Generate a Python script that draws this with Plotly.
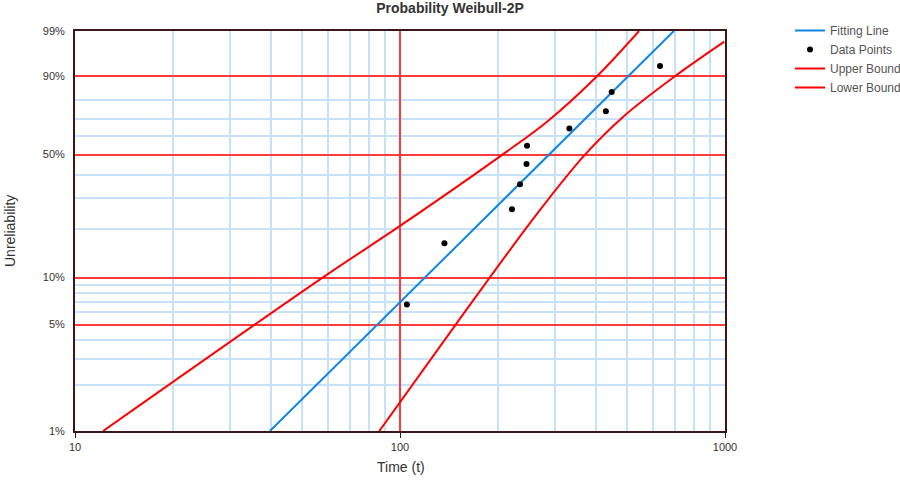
import numpy as np
import plotly.graph_objects as go

# ---- data ----
data_t = [105, 137, 221, 234, 245, 246, 332, 430, 448, 631]
data_F = [0.0673, 0.1635, 0.2596, 0.3558, 0.4519, 0.5481, 0.6442, 0.7404, 0.8365, 0.9327]

fit_t = [39.8, 696]
fit_F = [0.01, 0.99]

upper_t = [12.2, 57.8, 100, 206.7, 285.3, 403.8, 543.7]
upper_F = [0.010, 0.100, 0.2074, 0.500, 0.6867, 0.900, 0.990]

lower_t = [86.35, 148.4, 263.9, 370.9, 486.5, 701.8, 995]
lower_F = [0.010, 0.050, 0.2440, 0.500, 0.7105, 0.900, 0.980]

major_pct = [0.01, 0.05, 0.10, 0.50, 0.90, 0.99]
major_pct_text = ["1%", "5%", "10%", "50%", "90%", "99%"]
minor_pct = [0.02, 0.03, 0.04, 0.06, 0.07, 0.08, 0.09, 0.2, 0.3, 0.4, 0.6, 0.7, 0.8]

x_major = [10, 100, 1000]
x_major_text = ["10", "100", "1000"]
x_minor = [20, 30, 40, 50, 60, 70, 80, 90, 200, 300, 400, 500, 600, 700, 800, 900]


def wb(F):
    F = np.asarray(F, dtype=float)
    return np.log(-np.log(1.0 - F))


RED_GRID = "#ff3a3a"
BLUE_GRID = "#c6e2f9"
FRAME = "#3a1616"
TEXT = "#333333"
FONT = "Liberation Sans, Arial, sans-serif"

fig = go.Figure()
fig.add_trace(go.Scatter(x=fit_t, y=wb(fit_F), mode="lines", name="Fitting Line",
                         line=dict(color="#1185e6", width=2)))
fig.add_trace(go.Scatter(x=data_t, y=wb(data_F), mode="markers", name="Data Points",
                         marker=dict(color="black", size=6)))
fig.add_trace(go.Scatter(x=upper_t, y=wb(upper_F), mode="lines", name="Upper Bound",
                         line=dict(color="#ff0000", width=2, shape="spline", smoothing=1.0)))
fig.add_trace(go.Scatter(x=lower_t, y=wb(lower_F), mode="lines", name="Lower Bound",
                         line=dict(color="#ff0000", width=2, shape="spline", smoothing=1.0)))

fig.update_layout(
    width=900, height=480,
    margin=dict(l=75, r=175, t=31, b=49, autoexpand=False),
    paper_bgcolor="white", plot_bgcolor="white",
    font=dict(family=FONT, size=11, color=TEXT),
    title=dict(text="<b>Probability Weibull-2P</b>", x=0.5, xref="container", xanchor="center",
               y=1 - 8 / 480, yref="container", yanchor="middle",
               font=dict(family=FONT, size=14, color=TEXT)),
    showlegend=True,
    legend=dict(x=790 / 900, xref="container", xanchor="left",
                y=1 - 16 / 480, yref="container", yanchor="top",
                font=dict(family=FONT, size=12, color="#555555"),
                bgcolor="rgba(0,0,0,0)", tracegroupgap=0, itemwidth=30),
    xaxis=dict(type="log", range=[1, 3], automargin=False,
               tickmode="array", tickvals=x_major, ticktext=x_major_text,
               tickfont=dict(family=FONT, size=11, color=TEXT),
               showgrid=True, gridcolor=RED_GRID, gridwidth=1.6,
               minor=dict(tickmode="array", tickvals=x_minor, showgrid=True,
                          gridcolor=BLUE_GRID, gridwidth=1.5, ticks=""),
               showline=True, linecolor=FRAME, linewidth=2, mirror=True,
               ticks="outside", ticklen=5, tickcolor=FRAME, tickwidth=1,
               zeroline=False),
    yaxis=dict(range=[float(wb(0.01)), float(wb(0.99))], automargin=False,
               tickmode="array", tickvals=wb(major_pct).tolist(), ticktext=major_pct_text,
               tickfont=dict(family=FONT, size=11, color=TEXT),
               showgrid=True, gridcolor=RED_GRID, gridwidth=1.6,
               minor=dict(tickmode="array", tickvals=wb(minor_pct).tolist(), showgrid=True,
                          gridcolor=BLUE_GRID, gridwidth=1.5, ticks=""),
               showline=True, linecolor=FRAME, linewidth=2, mirror=True,
               ticks="", ticklabelstandoff=6, zeroline=False),
    annotations=[
        dict(text="Time (t)", xref="paper", yref="paper", x=(401 - 75) / 650, y=(431 - 467) / 400,
             xanchor="center", yanchor="middle", showarrow=False,
             font=dict(family=FONT, size=14, color=TEXT)),
        dict(text="Unreliability", xref="paper", yref="paper", x=(10 - 75) / 650, y=0.5,
             xanchor="center", yanchor="middle", textangle=-90, showarrow=False,
             font=dict(family=FONT, size=14, color=TEXT)),
    ],
)

fig.write_html("out.html", config={"displayModeBar": False},
               post_script="document.body.style.margin='0';")
